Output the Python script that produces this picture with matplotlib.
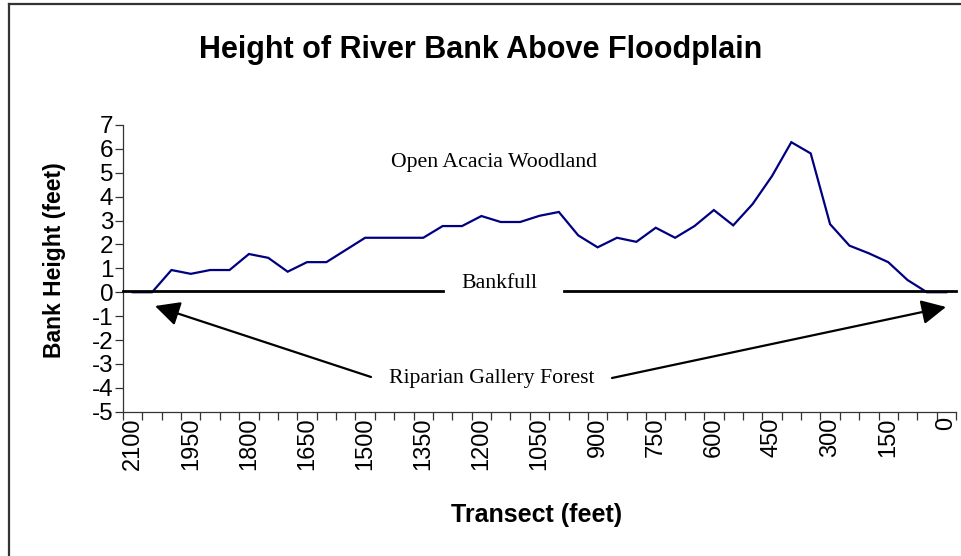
import numpy as np
import matplotlib
matplotlib.use("Agg")
import matplotlib.pyplot as plt
from matplotlib.lines import Line2D

# ---- data ----
transect_ft = [2100, 2050, 2000, 1950, 1900, 1850, 1800, 1750, 1700, 1650, 1600,
               1550, 1500, 1450, 1400, 1350, 1300, 1250, 1200, 1150, 1100, 1050,
               1000, 950, 900, 850, 800, 750, 700, 650, 600, 550, 500, 450, 400,
               350, 300, 250, 200, 150, 100, 50, 0]
bank_height_ft = [0, 0, 0.93, 0.77, 0.93, 0.93, 1.6, 1.44, 0.86, 1.26, 1.26,
                  1.77, 2.28, 2.28, 2.28, 2.28, 2.77, 2.77, 3.19, 2.94, 2.94, 3.2,
                  3.36, 2.38, 1.88, 2.28, 2.11, 2.7, 2.28, 2.77, 3.44, 2.8, 3.69, 4.86, 6.28,
                  5.81, 2.85, 1.95, 1.63, 1.26, 0.51, 0, 0]
y_ticks = list(range(-5, 8))
title = "Height of River Bank Above Floodplain"
xlabel = "Transect (feet)"
ylabel = "Bank Height (feet)"

W, H = 961, 556
fig = plt.figure(figsize=(W / 100, H / 100), dpi=100)
sans = ["Liberation Sans", "DejaVu Sans"]
serif = ["Liberation Serif", "DejaVu Serif"]

def fx(px):
    return px / W

def fy(py):
    return 1 - py / H

ax_l, ax_r, ax_t, ax_b = 123, 956, 125, 411.7
ax = fig.add_axes([fx(ax_l), fy(ax_b), fx(ax_r - ax_l), (ax_b - ax_t) / H])

idx = np.arange(len(transect_ft))
ax.plot(idx, bank_height_ft, color="#000080", lw=1.6, zorder=3, solid_joinstyle="miter")

ax.set_xlim(-0.5, len(transect_ft) - 0.5)
ax.set_ylim(-5, 7)

for s in ["top", "right"]:
    ax.spines[s].set_visible(False)
for s in ["left", "bottom"]:
    ax.spines[s].set_color("#333333")
    ax.spines[s].set_linewidth(0.9)

ax.set_yticks(y_ticks)
ax.set_yticklabels([str(v) for v in y_ticks], fontfamily=sans, fontsize=17.5)
ax.tick_params(axis="y", direction="out", length=6, width=0.9, color="#333333", pad=1)

ax.set_xticks(np.arange(-0.5, len(transect_ft), 1))
ax.set_xticklabels([])
ax.tick_params(axis="x", which="major", direction="out", length=6, width=0.9, color="#333333")
lab_idx = idx[::3]
ax.set_xticks(lab_idx, minor=True)
ax.set_xticklabels([str(transect_ft[i]) for i in lab_idx], minor=True,
                   rotation=90, fontfamily=sans, fontsize=17)
ax.tick_params(axis="x", which="minor", length=0, pad=4)

# Bankfull reference line (with gap around label)
trans = ax.get_yaxis_transform()
ax.plot([0, (443 - ax_l) / (ax_r - ax_l)], [0.04, 0.04], transform=trans, color="black", lw=2, zorder=4, clip_on=False)
ax.plot([(564 - ax_l) / (ax_r - ax_l), 1], [0.04, 0.04], transform=trans, color="black", lw=2, zorder=4, clip_on=False)

# Annotations
fig.text(fx(494), fy(163), "Open Acacia Woodland", fontfamily=serif, fontsize=15.7,
         ha="center", va="center")
fig.text(fx(499), fy(283), "Bankfull", fontfamily=serif, fontsize=15.7,
         ha="center", va="center")
fig.text(fx(492), fy(379), "Riparian Gallery Forest", fontfamily=serif, fontsize=15.7,
         ha="center", va="center")
arrow_kw = dict(arrowstyle="-|>,head_length=1.0,head_width=0.5", color="black", lw=1.6,
                shrinkA=0, shrinkB=0, mutation_scale=15)
fig.add_artist(matplotlib.patches.FancyArrowPatch((fx(371), fy(377)), (fx(155), fy(306)),
                                                  transform=fig.transFigure, **arrow_kw))
fig.add_artist(matplotlib.patches.FancyArrowPatch((fx(612), fy(378)), (fx(946), fy(307)),
                                                  transform=fig.transFigure, **arrow_kw))

# Titles
fig.text(fx(481), fy(50), title, fontfamily=sans, fontsize=22, fontweight="bold",
         ha="center", va="center")
fig.text(fx(537), fy(515), xlabel, fontfamily=sans, fontsize=18, fontweight="bold",
         ha="center", va="center")
fig.text(fx(54), fy(260), ylabel, fontfamily=sans, fontsize=16.5, fontweight="bold",
         ha="center", va="center", rotation=90)

# chart-area border (only left and top visible)
fig.add_artist(Line2D([fx(9), fx(9)], [0, fy(4)], transform=fig.transFigure, color="#333333", lw=1.6))
fig.add_artist(Line2D([fx(9), 1], [fy(4), fy(4)], transform=fig.transFigure, color="#333333", lw=1.6))

fig.savefig("out.png", dpi=100)
